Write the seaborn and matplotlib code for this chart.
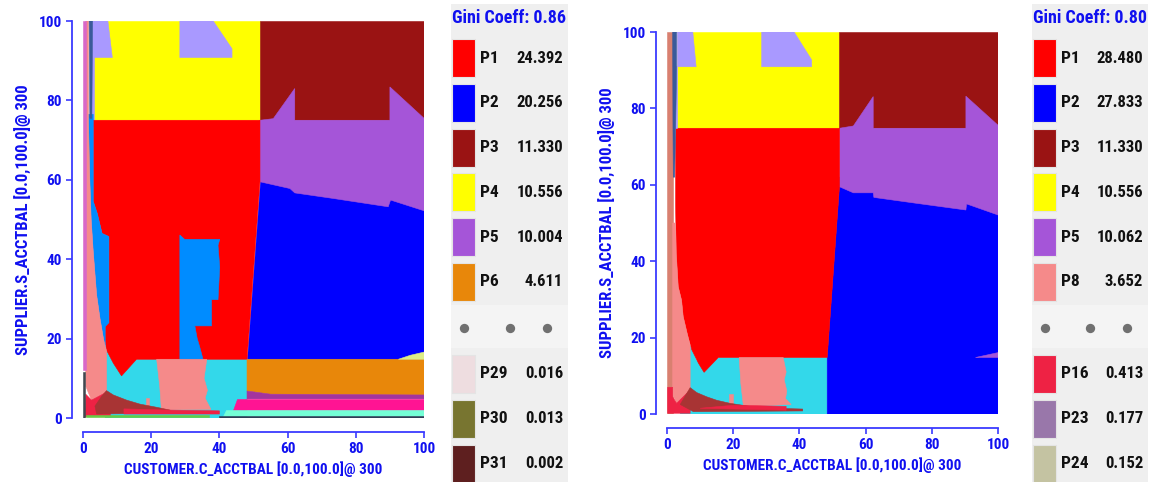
import matplotlib
matplotlib.use("Agg")
import matplotlib.pyplot as plt
from matplotlib.patches import Rectangle
import seaborn as sns

# ---------------------------------------------------------------- data
x_label = "CUSTOMER.C_ACCTBAL [0.0,100.0]@ 300"
y_label = "SUPPLIER.S_ACCTBAL [0.0,100.0]@ 300"
axis_ticks = [0, 20, 40, 60, 80, 100]

gini_left = 0.86
left_head_parts = ["P1", "P2", "P3", "P4", "P5", "P6"]
left_head_shares = [24.392, 20.256, 11.330, 10.556, 10.004, 4.611]
left_tail_parts = ["P29", "P30", "P31"]
left_tail_shares = [0.016, 0.013, 0.002]

gini_right = 0.80
right_head_parts = ["P1", "P2", "P3", "P4", "P5", "P8"]
right_head_shares = [28.480, 27.833, 11.330, 10.556, 10.062, 3.652]
right_tail_parts = ["P16", "P23", "P24"]
right_tail_shares = [0.413, 0.177, 0.152]

palette = {
    "P1": "#FF0000", "P2": "#0000FF", "P3": "#9A1313", "P4": "#FFFF00",
    "P5": "#A555D8", "P6": "#E8870A", "P8": "#F58A8A", "P16": "#EE2244",
    "P23": "#9977AA", "P24": "#C4C3A2", "P29": "#EEDDE0", "P30": "#787530",
    "P31": "#5E1F1F",
    "lavender": "#A999FF", "dodger": "#008CFF", "cyan": "#33D8EA",
    "brick": "#A83434", "steel": "#3A5A9A", "orchid": "#D868C8",
    "plum": "#A3349E", "deeppink": "#FF1493", "aqua": "#74FFD6",
    "navy": "#2E3D55", "lime": "#DDED88", "darksalmon": "#D98070",
    "slate": "#404850", "green": "#66CC44",
}

# Partition regions of the left map, painted in order (data units)
left_regions = [
    ("cyan", [(6.5, 0), (48.1, 0), (48.1, 14.8), (15.7, 14.8), (8.9, 14.5), (7.2, 18), (6.5, 18)]),
    ("P4", [(2.9, 75), (51.9, 75), (51.9, 100), (2.9, 100)]),
    ("P3", [(51.9, 75), (100, 75), (100, 100), (51.9, 100)]),
    ("P2", [(48.1, 14.8), (100, 14.8), (100, 62), (51.9, 62), (51.9, 59.5)]),
    ("P5", [(51.9, 75.0), (55.8, 75.4), (62.1, 83.0), (62.1, 75.0), (90.0, 75.0), (90.0, 83.4),
            (100, 75.5), (100, 52.2), (90.2, 54.9), (89.5, 53.2), (73.4, 55.3), (62.1, 56.7),
            (60.7, 57.8), (51.9, 59.5)]),
    ("lavender", [(2.4, 73.5), (3.1, 73.5), (3.1, 100), (2.4, 100)]),
    ("P1", [(3.0, 75), (51.9, 75), (51.9, 59.5), (48.1, 14.8), (15.7, 14.8), (11.3, 10.6),
            (8.9, 13.8), (6.9, 17.1), (6.5, 19.6), (6.5, 23.5), (7.6, 24), (7.6, 45.7),
            (5.6, 46.5), (4.2, 51.5), (3.0, 54.6)]),
    ("dodger", [(1.6, 76.5), (3.0, 76.5), (3.0, 54.6), (4.2, 51.5), (5.6, 46.5), (7.6, 45.7),
                (7.6, 24), (6.5, 23), (6.5, 18), (6.0, 20), (5.0, 25), (4.0, 31), (3.0, 42),
                (2.4, 50), (2.0, 60), (1.6, 70)]),
    ("dodger", [(28.4, 14.8), (28.4, 46.1), (29.8, 45.0), (40.1, 45.0), (39.6, 43.5),
                (40.1, 38), (39.6, 29.8), (37.7, 29.8), (37.7, 23.2), (32.8, 23.2),
                (33.5, 20), (34.2, 18), (35.2, 14.8)]),
    ("lavender", [(2.9, 100), (7.3, 100), (8.6, 90.8), (2.9, 90.8)]),
    ("lavender", [(28.4, 100), (38.2, 100), (43.7, 93), (43.7, 90.8), (28.4, 90.8)]),
    ("P6", [(48.1, 14.8), (100, 14.8), (100, 5.8), (55, 6.0), (48.1, 6.8)]),
    ("plum", [(48.1, 6.8), (55, 6.0), (100, 5.8), (100, 4.8), (48.1, 4.8)]),
    ("deeppink", [(45.1, 4.8), (100, 4.8), (100, 2.0), (44.1, 2.0)]),
    ("aqua", [(42, 2.0), (100, 2.0), (100, 0.5), (41, 0.5)]),
    ("navy", [(40, 0.5), (100, 0.5), (100, 0), (40, 0)]),
    ("lime", [(92.5, 14.8), (100, 14.8), (100, 16.6), (96, 15.8)]),
    ("P8", [(0.8, 100), (1.6, 100), (1.6, 75), (2.0, 60), (2.4, 50), (3.0, 42), (4.0, 31),
            (5.0, 25), (6.0, 20), (6.5, 18), (6.9, 17), (6.9, 6.5), (2.5, 4.5), (0.8, 8)]),
    ("P8", [(21.6, 14.8), (36.3, 14.8), (35.5, 10), (36.5, 7), (35.8, 5), (37.5, 2.2),
            (23.0, 2.0), (22.5, 8)]),
    ("P8", [(18.4, 1.5), (19.4, 1.5), (19.4, 5.0), (18.4, 5.0)]),
    ("P16", [(0.5, 0.3), (8, 0.3), (8, 3), (6.9, 6.5), (2.5, 4.5), (0.8, 6)]),
    ("brick", [(6.9, 6.9), (8.9, 5.8), (12.8, 4.5), (16.7, 3.5), (21.6, 2.7), (25.5, 2.0),
               (25.5, 1.2), (4.0, 1.0), (3.5, 3.0), (5.5, 5.5)]),
    ("P16", [(12, 1.0), (40, 1.0), (40, 1.8), (25, 2.0), (12, 2.3)]),
    ("green", [(1.0, 0.2), (37, 0.2), (37, 0.7), (1.0, 0.7)]),
    ("steel", [(1.8, 100), (2.8, 100), (2.6, 75.5), (2.0, 75.5)]),
    ("orchid", [(0, 12), (0.8, 12), (0.8, 100), (0, 100)]),
    ("slate", [(0, 0), (0.5, 0), (0.5, 11.5), (0, 11.5)]),
]

# Partition regions of the right map
right_regions = [
    ("cyan", [(4.0, 0), (48.4, 0), (48.4, 14.8), (15.5, 14.8), (9, 14), (7, 18), (5, 18), (4, 10)]),
    ("P4", [(2.9, 74.8), (52.1, 74.8), (52.1, 100), (2.9, 100)]),
    ("P3", [(52.1, 74.8), (100, 74.8), (100, 100), (52.1, 100)]),
    ("P2", [(48.4, 0), (100, 0), (100, 62), (52.1, 62), (52.1, 59.5), (48.4, 14.8)]),
    ("P5", [(52.1, 74.8), (56.3, 75.4), (62.3, 83.1), (62.3, 74.8), (90.3, 74.8), (90.3, 83.2),
            (100, 75.6), (100, 52.1), (90.5, 55.0), (90.3, 53.4), (75, 55.2), (62.5, 56.7),
            (62.3, 57.9), (56.3, 57.9), (52.1, 59.5)]),
    ("P5", [(93, 14.8), (100, 14.8), (100, 16.3)]),
    ("P1", [(2.7, 74.8), (52.1, 74.8), (52.1, 59.5), (48.4, 14.8), (15.5, 14.8), (11.2, 10.9),
            (9.5, 13.3), (7.5, 16.8), (6.1, 21.1), (4.9, 25.5), (4.4, 29.8), (3.4, 33.3),
            (2.8, 42), (2.6, 55), (2.6, 70)]),
    ("lavender", [(2.4, 75), (3.1, 75), (3.1, 91), (2.6, 91)]),
    ("lavender", [(3.1, 100), (7.8, 100), (8.8, 90.9), (3.1, 90.9)]),
    ("lavender", [(28.6, 100), (38.4, 100), (43.7, 92.7), (43.7, 90.9), (28.6, 90.9)]),
    ("darksalmon", [(0, 0), (1.7, 0), (1.7, 100), (0, 100)]),
    ("P8", [(1.7, 50), (2.6, 50), (2.8, 42), (3.4, 33.3), (4.4, 29.8), (4.9, 25.5), (6.1, 21.1),
            (7.0, 18), (7.0, 6.3), (2.9, 2.8), (1.7, 5)]),
    ("P8", [(21.8, 14.8), (35.1, 14.8), (36.0, 11), (35.4, 9), (36.2, 6), (35.8, 4),
            (37.5, 2.5), (23.1, 1.9), (22.3, 8)]),
    ("P8", [(18.8, 1.5), (19.8, 1.5), (19.8, 5.3), (18.8, 5.3)]),
    ("P16", [(0.2, 0.2), (7, 0.2), (7.0, 6.3), (2.9, 2.8), (1.7, 4.5), (1.7, 7), (0.2, 7)]),
    ("brick", [(7.0, 6.9), (9, 5.6), (12.0, 4.5), (15, 3.6), (19.0, 2.8), (28.1, 1.6),
               (41, 1.3), (41, 0.8), (8, 0.6), (4, 2.5)]),
    ("P16", [(10, 1.5), (36, 1.0), (36, 2.0), (20, 2.3)]),
    ("steel", [(1.7, 100), (2.9, 100), (2.9, 90), (2.6, 75), (2.3, 62), (1.9, 62), (1.8, 75)]),
]

# ---------------------------------------------------------------- style
sns.set_theme(style="ticks")
plt.rcParams["font.family"] = ["Roboto Condensed", "Archivo Narrow",
                               "Sofia Sans Semi Condensed", "Saira SemiCondensed",
                               "DejaVu Sans"]
axis_blue = "#3A3AFF"
text_blue = "#1010F0"
panel_gray = "#EFEFEF"
band_gray = "#F4F4F4"

W, H = 1159, 482
fig = plt.figure(figsize=(W / 100, H / 100), dpi=100)


def px_box(x0, y0, x1, y1):
    """Figure-fraction rectangle from pixel corners (top-left origin)."""
    return [x0 / W, 1 - y1 / H, (x1 - x0) / W, (y1 - y0) / H]


def draw_map(ax, regions):
    for key, pts in regions:
        xs, ys = zip(*pts)
        ax.fill(xs, ys, color=palette[key], lw=0.4, ec=palette[key])
    ax.set_xlim(0, 100)
    ax.set_ylim(0, 100)
    ax.set_xticks(axis_ticks)
    ax.set_yticks(axis_ticks)
    sns.despine(ax=ax, offset={"left": 8, "bottom": 10})
    for side in ("left", "bottom"):
        ax.spines[side].set_color(axis_blue)
        ax.spines[side].set_linewidth(1.3)
    ax.tick_params(direction="out", length=4.5, width=1.2, color=axis_blue,
                   labelcolor=text_blue, labelsize=11, pad=2.5)
    for lab in ax.get_xticklabels() + ax.get_yticklabels():
        lab.set_fontweight("bold")
    ax.set_xlabel(x_label, color=text_blue, fontsize=11, fontweight="bold", labelpad=4)
    ax.set_ylabel(y_label, color=text_blue, fontsize=12, fontweight="bold", labelpad=6)


def draw_panel(ax, gini, head_parts, head_shares, tail_parts, tail_shares):
    ax.set_xlim(0, 117)
    ax.set_ylim(478, 0)
    ax.axis("off")
    ax.add_patch(Rectangle((0, 0), 117, 478, color=panel_gray, lw=0))
    ax.add_patch(Rectangle((0, 301), 117, 43, color=band_gray, lw=0))
    ax.text(1.5, 14, f"Gini Coeff: {gini:.2f}", color=text_blue, fontsize=13,
            fontweight="bold", va="center", ha="left")
    rows = [(p, s, 35 + 44.8 * i) for i, (p, s) in enumerate(zip(head_parts, head_shares))]
    rows += [(p, s, 351 + 44.8 * j) for j, (p, s) in enumerate(zip(tail_parts, tail_shares))]
    for part, share, top in rows:
        ax.add_patch(Rectangle((1, top), 23, 38, fc=palette[part], ec="#E4E4E4", lw=0.8))
        ax.text(29, top + 19, part, fontsize=12.5, fontweight="bold", color="#111111",
                va="center", ha="left")
        ax.text(112, top + 19, f"{share:.3f}", fontsize=12, fontweight="bold",
                color="#111111", va="center", ha="right")
    ax.scatter([13, 59, 96], [324, 324, 324], s=45, color="#707070", lw=0, zorder=3)


ax_left = fig.add_axes(px_box(83, 21, 424, 418))
draw_map(ax_left, left_regions)
leg_left = fig.add_axes(px_box(451, 4, 568, 482))
draw_panel(leg_left, gini_left, left_head_parts, left_head_shares,
           left_tail_parts, left_tail_shares)

ax_right = fig.add_axes(px_box(667, 32, 998, 414))
draw_map(ax_right, right_regions)
leg_right = fig.add_axes(px_box(1032, 4, 1148, 482))
draw_panel(leg_right, gini_right, right_head_parts, right_head_shares,
           right_tail_parts, right_tail_shares)

fig.savefig("out.png", dpi=100)
